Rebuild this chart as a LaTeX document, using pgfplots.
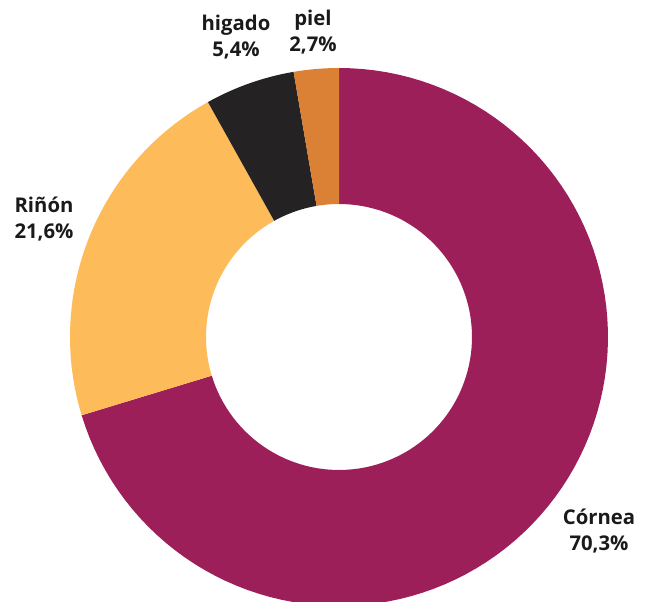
\documentclass[border=0pt]{standalone}
\usepackage{pgfplots}
\pgfplotsset{compat=1.18}
\usepackage{fontspec}
\setmainfont{Open Sans}
\definecolor{cCornea}{HTML}{9D1F5A}
\definecolor{cRinon}{HTML}{FDBB5A}
\definecolor{cHigado}{HTML}{252223}
\definecolor{cPiel}{HTML}{DB8136}
\definecolor{txt}{HTML}{1A1A1A}
% data (percent)
\def\vCornea{70.3}
\def\vRinon{21.6}
\def\vHigado{5.4}
\def\vPiel{2.7}
\pgfmathsetmacro\aA{90}
\pgfmathsetmacro\aB{\aA-3.6*\vCornea}
\pgfmathsetmacro\aC{\aB-3.6*\vRinon}
\pgfmathsetmacro\aD{\aC-3.6*\vHigado}
\pgfmathsetmacro\aE{\aD-3.6*\vPiel}
\def\Ro{269}
\def\Ri{133}
\newcommand\slice[3]{%
\addplot[fill=#1, draw=none, domain=0:200, samples=201, variable=\t]
 ({((\t<100.5) ? \Ro : \Ri)*cos((\t<100.5) ? (#2+(#3-#2)*\t/100) : (#3+(#2-#3)*(\t-101)/99))},
  {((\t<100.5) ? \Ro : \Ri)*sin((\t<100.5) ? (#2+(#3-#2)*\t/100) : (#3+(#2-#3)*(\t-101)/99))});
}
\begin{document}
\begin{tikzpicture}
\begin{axis}[
  width=649pt, height=602pt, scale only axis,
  xmin=-339, xmax=310, ymin=-265, ymax=337,
  hide axis, clip=true,
]
\slice{cCornea}{\aA}{\aB}
\slice{cRinon}{\aB}{\aC}
\slice{cHigado}{\aC}{\aD}
\slice{cPiel}{\aD}{\aE}
\begin{scope}[every node/.style={font=\fontsize{20.3}{26.5}\selectfont\bfseries, text=txt, align=center}]
\node at (axis cs:-103,300) {higado\\5,4\%};
\node at (axis cs:-26,305) {piel\\2,7\%};
\node at (axis cs:-295,118) {Riñón\\21,6\%};
\node at (axis cs:260,-194) {Córnea\\70,3\%};
\end{scope}
\end{axis}
\pgfresetboundingbox
\path (current axis.south west) rectangle (current axis.north east);
\end{tikzpicture}
\end{document}
